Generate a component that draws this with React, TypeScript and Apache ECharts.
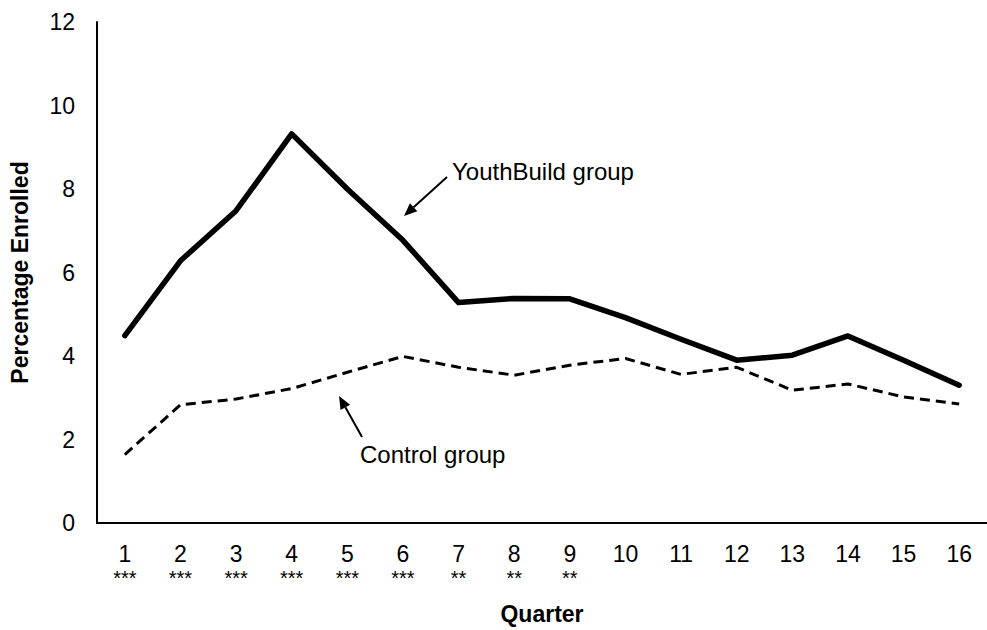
import React, { useEffect, useRef } from "react";
import * as echarts from "echarts";

const quarters = ["1", "2", "3", "4", "5", "6", "7", "8", "9", "10", "11", "12", "13", "14", "15", "16"];
const significance = ["***", "***", "***", "***", "***", "***", "**", "**", "**", "", "", "", "", "", "", ""];
const youthBuild = [4.49, 6.28, 7.48, 9.32, 8.0, 6.77, 5.28, 5.38, 5.37, 4.92, 4.4, 3.9, 4.02, 4.48, 3.9, 3.3];
const control = [1.64, 2.83, 2.97, 3.22, 3.61, 3.99, 3.73, 3.54, 3.78, 3.94, 3.56, 3.73, 3.18, 3.33, 3.02, 2.85];
const yTicks = { min: 0, max: 12, interval: 2 };

const FONT = "'Liberation Sans', Arial, sans-serif";

function arrow(x1: number, y1: number, x2: number, y2: number) {
  const dx = x2 - x1;
  const dy = y2 - y1;
  const len = Math.sqrt(dx * dx + dy * dy);
  const ux = dx / len;
  const uy = dy / len;
  const hl = 13;
  const hw = 5.5;
  const bx = x2 - ux * hl;
  const by = y2 - uy * hl;
  const px = -uy * hw;
  const py = ux * hw;
  return [
    {
      type: "line",
      shape: { x1, y1, x2: bx, y2: by },
      style: { stroke: "#000", lineWidth: 2 },
    },
    {
      type: "polygon",
      shape: {
        points: [
          [x2, y2],
          [bx + px, by + py],
          [bx - px, by - py],
        ],
      },
      style: { fill: "#000" },
    },
  ];
}

export default function App() {
  const ref = useRef<HTMLDivElement>(null);
  useEffect(() => {
    if (!ref.current) return;
    const chart = echarts.init(ref.current, null, { renderer: "svg" });
    chart.setOption({
      animation: false,
      backgroundColor: "#fff",
      grid: { left: 90, top: 22, height: 505, width: 906, containLabel: false },
      xAxis: {
        type: "category",
        data: quarters,
        boundaryGap: true,
        name: "Quarter",
        nameLocation: "middle",
        nameGap: 79,
        nameTextStyle: { fontFamily: FONT, fontSize: 23, fontWeight: "bold", color: "#000" },
        axisLine: { lineStyle: { color: "#000", width: 2 } },
        axisTick: { show: false },
        axisLabel: {
          margin: 18,
          interval: 0,
          formatter: (v: string, i: number) =>
            significance[i] ? `{n|${v}}\n{s|${significance[i]}}` : `{n|${v}}`,
          rich: {
            n: { fontFamily: FONT, fontSize: 23, color: "#000", lineHeight: 26 },
            s: { fontFamily: FONT, fontSize: 20, color: "#000", lineHeight: 22 },
          },
        },
        splitLine: { show: false },
      },
      yAxis: {
        type: "value",
        min: yTicks.min,
        max: yTicks.max,
        interval: yTicks.interval,
        name: "Percentage Enrolled",
        nameLocation: "middle",
        nameGap: 66,
        nameTextStyle: { fontFamily: FONT, fontSize: 23, fontWeight: "bold", color: "#000" },
        axisLine: { show: true, lineStyle: { color: "#000", width: 2 } },
        axisTick: { show: false },
        axisLabel: { margin: 22, fontFamily: FONT, fontSize: 23, color: "#000" },
        splitLine: { show: false },
      },
      series: [
        {
          name: "YouthBuild group",
          type: "line",
          data: youthBuild,
          symbol: "none",
          lineStyle: { color: "#000", width: 5.5, cap: "round", join: "round" },
        },
        {
          name: "Control group",
          type: "line",
          data: control,
          symbol: "none",
          lineStyle: { color: "#000", width: 3, type: [10, 6] },
        },
      ],
      graphic: [
        {
          type: "text",
          left: 452,
          top: 159,
          style: { text: "YouthBuild group", fontFamily: FONT, fontSize: 24, fill: "#000" },
        },
        ...arrow(447, 177, 404, 216),
        {
          type: "text",
          left: 360,
          top: 442,
          style: { text: "Control group", fontFamily: FONT, fontSize: 24, fill: "#000" },
        },
        ...arrow(362, 437, 339, 396),
      ],
    });
    return () => chart.dispose();
  }, []);
  return <div ref={ref} style={{ width: 987, height: 630, position: "absolute", left: 0, top: 0 }} />;
}
